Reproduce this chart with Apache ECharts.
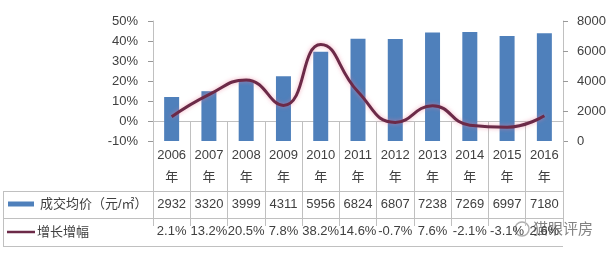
<!DOCTYPE html>
<html><head><meta charset="utf-8">
<script src="https://cdn.jsdelivr.net/npm/echarts@6/dist/echarts.min.js"></script>
<style>html,body{margin:0;padding:0;background:#fff}#c{width:612px;height:254px}</style>
</head><body><div id="c"></div>
<script>
var years = ['2006','2007','2008','2009','2010','2011','2012','2013','2014','2015','2016'];
var priceName = '成交均价（元/㎡）';
var growthName = '增长增幅';
var prices = [2932, 3320, 3999, 4311, 5956, 6824, 6807, 7238, 7269, 6997, 7180];
var growth = [2.1, 13.2, 20.5, 7.8, 38.2, 14.6, -0.7, 7.6, -2.1, -3.1, 2.6];
var leftTicks = {min: -10, max: 50, interval: 10};
var rightTicks = {min: 0, max: 8000, interval: 2000};

var txtColor = '#404040';
var gridColor = '#c0c0c0';
var barColor = '#4f80bb';
var lineColor = '#6c2a48';
var font = '"Liberation Sans","Noto Sans CJK SC",sans-serif';
var chart = echarts.init(document.getElementById('c'));

var G = {left: 153, right: 49, top: 21, bottom: 113};
var rowY = [141, 191, 218, 246];

function hideAxis(extra) {
  return Object.assign({
    type: 'category', data: years, gridIndex: 0, position: 'bottom',
    axisLine: {show: false}, axisTick: {show: false}, splitLine: {show: false}
  }, extra);
}

chart.setOption({
  animation: false,
  grid: {left: G.left, right: G.right, top: G.top, bottom: G.bottom, containLabel: false},
  xAxis: [
    {
      type: 'category', data: years, boundaryGap: true,
      axisLine: {show: true, lineStyle: {color: gridColor}},
      axisTick: {show: true, interval: 0, length: rowY[3] - rowY[0], lineStyle: {color: gridColor}},
      axisLabel: {
        interval: 0, margin: 3, color: txtColor, fontSize: 13, fontFamily: font, lineHeight: 22, align: 'center',
        formatter: function (v) { return '{a|' + v + '}\n{a|年}'; },
        rich: {a: {align: 'center', fontSize: 13, fontFamily: font, color: txtColor, lineHeight: 22}}
      }
    },
    hideAxis({offset: rowY[1] - rowY[0], axisLabel: {
      interval: 0, margin: 7, color: txtColor, fontSize: 13, fontFamily: font,
      formatter: function (v, i) { return String(prices[i]); }
    }}),
    hideAxis({offset: rowY[2] - rowY[0], axisLabel: {
      interval: 0, margin: 7, color: txtColor, fontSize: 13, fontFamily: font,
      formatter: function (v, i) { return growth[i].toFixed(1) + '%'; }
    }})
  ],
  yAxis: [
    {
      type: 'value', position: 'left', min: leftTicks.min, max: leftTicks.max, interval: leftTicks.interval,
      axisLine: {show: true, lineStyle: {color: gridColor}},
      axisTick: {show: true, length: 5, lineStyle: {color: '#999'}},
      splitLine: {show: false},
      axisLabel: {margin: 15, color: txtColor, fontSize: 13, fontFamily: font, formatter: '{value}%'}
    },
    {
      type: 'value', position: 'right', min: rightTicks.min, max: rightTicks.max, interval: rightTicks.interval,
      axisLine: {show: true, lineStyle: {color: gridColor}},
      axisTick: {show: true, length: 5, lineStyle: {color: '#999'}},
      splitLine: {show: false},
      axisLabel: {margin: 14, color: txtColor, fontSize: 13, fontFamily: font, formatter: function (v) { return String(v); }}
    }
  ],
  series: [
    {
      name: priceName, type: 'bar', yAxisIndex: 1, data: prices, barWidth: 15,
      itemStyle: {color: barColor}
    },
    {
      name: growthName, type: 'line', yAxisIndex: 0, data: growth, smooth: 0.5,
      symbol: 'none',
      lineStyle: {color: lineColor, width: 3, shadowColor: 'rgba(235,120,150,0.6)', shadowBlur: 4}
    }
  ]
});

var right = 612 - G.right;
var graphics = [];
function hline(y, x1) {
  graphics.push({type: 'line', shape: {x1: x1, y1: y + 0.5, x2: right, y2: y + 0.5}, style: {stroke: gridColor, lineWidth: 1}, silent: true});
}
hline(rowY[1], 3); hline(rowY[2], 3); hline(rowY[3], 3);
graphics.push({type: 'line', shape: {x1: 3.5, y1: rowY[1], x2: 3.5, y2: rowY[3]}, style: {stroke: gridColor, lineWidth: 1}});
var r1 = (rowY[1] + rowY[2]) / 2, r2 = (rowY[2] + rowY[3]) / 2;
graphics.push({type: 'rect', shape: {x: 8, y: r1 - 3, width: 26, height: 5}, style: {fill: barColor}});
graphics.push({type: 'text', x: 40, y: r1, style: {text: priceName, fill: txtColor, font: '13px ' + font, textVerticalAlign: 'middle'}});
graphics.push({type: 'line', shape: {x1: 7, y1: r2, x2: 35, y2: r2}, style: {stroke: lineColor, lineWidth: 2.5}});
graphics.push({type: 'text', x: 37, y: r2, style: {text: growthName, fill: txtColor, font: '13px ' + font, textVerticalAlign: 'middle'}});
graphics.push({type: 'circle', shape: {cx: 522, cy: 229, r: 7}, style: {fill: 'none', stroke: 'rgba(120,120,120,0.6)', lineWidth: 1.5}});
graphics.push({type: 'text', x: 533, y: 228, style: {text: '猫眼评房', fill: 'rgba(90,90,90,0.75)', font: '15px "Noto Sans CJK SC"', textVerticalAlign: 'middle'}});
chart.setOption({graphic: graphics});
</script></body></html>
